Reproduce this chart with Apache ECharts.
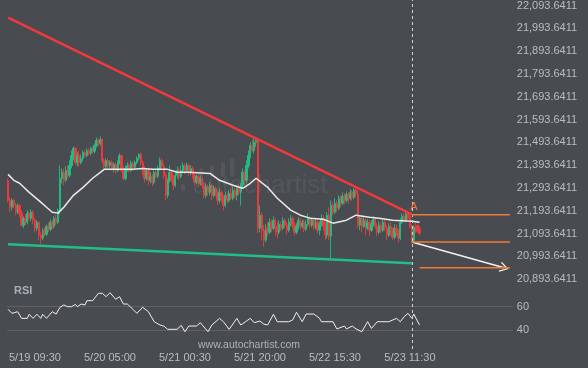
<!DOCTYPE html>
<html><head><meta charset="utf-8">
<script src="https://cdn.jsdelivr.net/npm/echarts@6/dist/echarts.min.js"></script>
<style>html,body{margin:0;padding:0;background:#484b50;}#c{width:588px;height:368px;}</style>
</head><body><div id="c"></div>
<script>
// ---- data ----
const startDay = 19, startMinute = 150;          // first bar 5/19 02:30, 30-min bars
const slotCount = 263;
const skippedTimes = ['5/22 23:00'];
const timeLabels = ['5/19 09:30','5/20 05:00','5/21 00:30','5/21 20:00','5/22 15:30','5/23 11:30'];
// [open, close, low, high]
const candles = [
[21327,21239,21230,21335],[21239,21209,21187,21252],[21209,21239,21195,21248],[21239,21217,21204,21244],[21217,21187,21174,21226],
[21187,21217,21178,21226],[21217,21182,21165,21222],[21182,21130,21121,21195],[21130,21160,21117,21169],[21160,21143,21130,21178],
[21143,21182,21134,21195],[21182,21160,21152,21191],[21160,21187,21147,21200],[21187,21152,21134,21195],[21152,21117,21099,21160],
[21117,21143,21104,21152],[21143,21086,21064,21147],[21086,21073,21047,21099],[21073,21108,21064,21117],[21108,21090,21082,21121],
[21090,21125,21082,21134],[21125,21112,21099,21143],[21112,21143,21104,21156],[21143,21125,21112,21152],[21125,21160,21117,21169],
[21160,21143,21130,21174],[21143,21195,21134,21204],[21195,21335,21178,21392],[21335,21362,21314,21379],[21362,21327,21305,21379],
[21327,21370,21318,21388],[21370,21349,21335,21392],[21349,21392,21340,21414],[21392,21436,21379,21458],[21436,21467,21414,21475],
[21467,21405,21392,21471],[21405,21436,21388,21449],[21436,21405,21388,21458],[21405,21423,21397,21440],[21423,21449,21410,21458],
[21449,21436,21427,21458],[21436,21458,21427,21467],[21458,21445,21436,21467],[21445,21467,21436,21475],[21467,21454,21445,21475],
[21454,21480,21445,21489],[21480,21502,21471,21515],[21502,21489,21475,21510],[21489,21506,21480,21519],[21506,21414,21401,21510],
[21414,21388,21379,21423],[21388,21414,21375,21423],[21414,21392,21379,21423],[21392,21405,21379,21414],[21405,21379,21370,21414],
[21379,21397,21362,21405],[21397,21370,21357,21405],[21370,21405,21362,21414],[21405,21436,21397,21445],[21436,21370,21362,21440],
[21370,21335,21327,21388],[21335,21379,21327,21392],[21379,21392,21366,21405],[21392,21370,21362,21401],[21370,21401,21362,21414],
[21401,21384,21370,21410],[21384,21405,21375,21414],[21405,21423,21397,21432],[21423,21440,21414,21445],[21440,21405,21392,21449],
[21405,21379,21349,21414],[21379,21335,21318,21388],[21335,21370,21327,21379],[21370,21327,21305,21379],[21327,21344,21314,21362],
[21344,21318,21300,21353],[21318,21362,21309,21370],[21362,21344,21335,21370],[21344,21379,21335,21392],[21379,21414,21370,21427],
[21414,21388,21379,21423],[21388,21349,21335,21401],[21349,21261,21239,21362],[21261,21327,21248,21335],[21327,21362,21318,21392],
[21362,21335,21318,21370],[21335,21305,21283,21349],[21305,21349,21296,21362],[21349,21370,21335,21388],[21370,21344,21327,21379],
[21344,21370,21335,21392],[21370,21392,21362,21405],[21392,21370,21353,21401],[21370,21392,21362,21405],[21392,21362,21344,21401],
[21362,21379,21349,21392],[21379,21349,21335,21388],[21349,21318,21305,21362],[21318,21344,21309,21353],[21344,21314,21300,21357],
[21314,21335,21305,21349],[21335,21305,21292,21344],[21305,21261,21248,21318],[21261,21300,21248,21314],[21300,21274,21257,21309],
[21274,21305,21261,21318],[21305,21261,21239,21314],[21261,21292,21252,21305],[21292,21270,21257,21300],[21270,21239,21217,21283],
[21239,21274,21226,21292],[21274,21248,21230,21283],[21248,21217,21195,21261],[21217,21261,21209,21274],[21261,21239,21226,21270],
[21239,21270,21230,21283],[21270,21248,21239,21292],[21248,21283,21239,21300],[21283,21261,21248,21296],[21261,21292,21239,21305],
[21292,21274,21261,21314],[21274,21305,21217,21314],[21305,21362,21292,21379],[21362,21327,21305,21370],[21327,21392,21314,21414],
[21392,21436,21379,21458],[21436,21480,21423,21493],[21480,21458,21449,21502],[21458,21493,21445,21510],[21493,21502,21475,21515],
[21502,21117,21095,21506],[21117,21174,21099,21217],[21174,21108,21064,21187],[21108,21064,21034,21130],[21064,21117,21055,21134],
[21117,21099,21082,21143],[21099,21143,21090,21160],[21143,21117,21099,21156],[21117,21152,21108,21169],[21152,21125,21082,21160],
[21125,21099,21073,21143],[21099,21134,21090,21152],[21134,21117,21104,21147],[21117,21152,21108,21165],[21152,21130,21117,21160],
[21130,21108,21090,21143],[21108,21143,21099,21160],[21143,21160,21125,21174],[21160,21130,21117,21169],[21130,21099,21086,21143],
[21099,21125,21090,21139],[21125,21152,21112,21165],[21152,21125,21108,21160],[21125,21143,21117,21152],[21143,21112,21099,21156],
[21112,21134,21104,21152],[21134,21160,21125,21182],[21160,21130,21117,21169],[21130,21152,21121,21165],[21152,21121,21108,21160],
[21121,21143,21112,21156],[21143,21108,21095,21152],[21108,21134,21086,21147],[21134,21160,21125,21178],[21160,21125,21108,21174],
[21125,21086,21064,21143],[21086,21174,21073,21187],[21174,21082,21064,21209],[21082,21217,20985,21239],[21217,21187,21174,21230],
[21187,21226,21178,21248],[21226,21204,21187,21239],[21204,21248,21195,21261],[21248,21226,21209,21261],[21226,21257,21217,21274],
[21257,21239,21222,21270],[21239,21265,21230,21279],[21265,21248,21226,21274],[21248,21274,21239,21287],[21274,21252,21239,21283],
[21252,21283,21244,21292],[21283,21265,21252,21296],[21265,21130,21117,21283],[21130,21160,21108,21174],[21160,21125,21099,21169],
[21125,21152,21117,21165],[21152,21117,21086,21160],[21117,21143,21108,21156],[21143,21108,21082,21152],[21108,21134,21099,21152],
[21134,21156,21125,21169],[21156,21125,21112,21165],[21125,21099,21082,21139],[21099,21130,21090,21147],[21130,21108,21095,21143],
[21108,21143,21099,21156],[21143,21117,21104,21156],[21117,21086,21064,21130],[21086,21125,21077,21139],[21125,21108,21082,21143],
[21108,21077,21064,21121],[21077,21117,21069,21134],[21117,21099,21082,21134],[21099,21073,21055,21112],[21073,21143,21064,21160],
[21143,21169,21134,21182],[21169,21152,21143,21182],[21152,21178,21143,21191],[21178,21160,21152,21187],[21169,21125,21117,21182],
[21125,21064,21055,21134],[21064,21121,21055,21130],[21121,21104,21095,21139],[21130,21104,21095,21134],[21117,21095,21086,21125]
];
// moving average [barIndex, value]
const maLine = [[0,21353],[3,21327],[6,21314],[11,21274],[17,21231],[20,21209],[23,21187],[26,21183],[29,21209],[34,21261],[39,21296],[44,21336],[48,21362],[50,21375],[57,21375],[65,21375],[70,21379],[75,21375],[83,21375],[88,21362],[94,21362],[105,21357],[110,21327],[117,21305],[122,21292],[126,21314],[129,21336],[135,21296],[140,21248],[147,21196],[152,21174],[157,21161],[164,21156],[169,21139],[176,21152],[181,21174],[188,21165],[193,21161],[200,21152],[205,21150],[210,21147],[214,21143]];
// RSI [barIndex, value]
const rsiLine = [[0,57.8],[2,54.3],[5,55.7],[7,50],[10,50],[11,53.5],[13,50],[15,53.5],[17,50],[18,53.5],[20,50],[23,55.7],[25,53.7],[27,59.5],[29,61.5],[31,60],[33,60],[35,62],[36,60],[38,62.3],[40,61.5],[41,65.2],[44,65.2],[47,71.5],[49,71.5],[51,68.6],[53,72],[56,66.4],[58,68.6],[60,62.3],[62,62.3],[65,57.7],[67,54.3],[70,59.5],[73,55.7],[76,47.1],[79,44.3],[81,43.4],[83,40.6],[88,40.6],[90,44],[92,38.5],[94,43.4],[98,43.4],[100,46.3],[101,44.3],[104,38.5],[106,44.3],[110,50],[112,47.1],[115,40.6],[119,50],[121,44.3],[124,47.7],[126,50],[128,46.3],[131,47.7],[133,45],[135,44.3],[138,53.5],[140,47.1],[146,47.1],[148,48.6],[150,55.2],[153,47.1],[155,53.7],[159,53.7],[162,50],[163,47.1],[169,47.1],[171,40.9],[175,43.4],[176,40.9],[179,43.4],[181,40.9],[184,38.5],[187,47.1],[189,41.4],[192,47.1],[198,47.1],[202,50],[204,47.1],[206,51.4],[208,54.3],[210,50],[211,53.7],[214,44.3]];
const resistanceLine = [[0,22040],[210,21178]];
const supportLine = [[0,21047],[210,20963]];
const upperLevel = [[210,21176],[261,21176]];
const lowerLevel = [[210,21056],[261,21056]];
const targetLevel = [[214,20943],[261,20943]];
const forecastArrow = [[210,21056],[258,20943]];
const breakoutBar = 210;
const priceAxis = {min: 20793.6411, max: 22093.6411, step: 100.000001};
const rsiAxis = {min: 40, max: 60, step: 20};

// ---- categories ----
const categories = [];
let t = startMinute;
while (categories.length < slotCount) {
  const day = startDay + Math.floor(t / 1440);
  const m = t % 1440;
  const lab = '5/' + day + ' ' + String(Math.floor(m / 60)).padStart(2, '0') + ':' + String(m % 60).padStart(2, '0');
  if (!skippedTimes.includes(lab)) categories.push(lab);
  t += 30;
}

function fmtPrice(v) {
  const s = v.toFixed(4).split('.');
  return s[0].replace(/\B(?=(\d{3})+(?!\d))/g, ',') + '.' + s[1];
}

const BG = '#484b50', RED = '#f2393b', GREEN = '#1fbf86', ORANGE = '#f27a36', TXT = '#b9bcc1';
const FONT = 'Liberation Sans, Arial, sans-serif';
const gridBase = {left: 7.1, width: 505.7};

const chart = echarts.init(document.getElementById('c'), null, {renderer: 'canvas'});
chart.setOption({
  backgroundColor: BG,
  animation: false,
  textStyle: {fontFamily: FONT},
  grid: [
    Object.assign({top: 4.7, height: 297.2}, gridBase),
    Object.assign({top: 306.7, height: 23.3}, gridBase),
    Object.assign({top: 0, height: 349}, gridBase)
  ],
  xAxis: [
    {type: 'category', gridIndex: 0, data: categories, show: false},
    {type: 'category', gridIndex: 1, data: categories, show: false},
    {type: 'category', gridIndex: 2, data: categories,
     axisLine: {show: false}, axisTick: {show: false}, splitLine: {show: false},
     axisLabel: {interval: (i, v) => timeLabels.includes(v), color: TXT, fontSize: 11, margin: 3, fontFamily: FONT}}
  ],
  yAxis: [
    {type: 'value', gridIndex: 0, position: 'right', min: priceAxis.min, max: priceAxis.max, interval: priceAxis.step,
     axisLine: {show: false}, axisTick: {show: false}, splitLine: {show: false},
     axisLabel: {showMinLabel: false, margin: 4, color: TXT, fontSize: 11, fontFamily: FONT, formatter: fmtPrice}},
    {type: 'value', gridIndex: 1, position: 'right', min: rsiAxis.min, max: rsiAxis.max, interval: rsiAxis.step,
     axisLine: {show: false}, axisTick: {show: false},
     splitLine: {show: true, lineStyle: {color: '#5d6166', width: 1}},
     axisLabel: {margin: 4, color: TXT, fontSize: 11, fontFamily: FONT}},
    {type: 'value', gridIndex: 2, show: false, min: 0, max: 1}
  ],
  graphic: [
    {type: 'group', z: 0, silent: true, children: [
      {type: 'rect', shape: {x: 181, y: 184, width: 4, height: 7, r: 2}, style: {fill: '#53575c'}},
      {type: 'rect', shape: {x: 199, y: 168, width: 4, height: 9, r: 2}, style: {fill: '#53575c'}},
      {type: 'rect', shape: {x: 210, y: 165, width: 4, height: 12, r: 2}, style: {fill: '#53575c'}},
      {type: 'rect', shape: {x: 221, y: 162, width: 4, height: 15, r: 2}, style: {fill: '#53575c'}},
      {type: 'rect', shape: {x: 230, y: 158, width: 4, height: 19, r: 2}, style: {fill: '#53575c'}},
      {type: 'text', x: 193, y: 186, style: {text: 'autochartist', fill: '#53575c', font: '26px ' + FONT, textVerticalAlign: 'middle'}}
    ]},
    {type: 'text', x: 198, y: 345, z: 1, silent: true, style: {text: 'www.autochartist.com', fill: '#aeb2b7', font: '10.5px ' + FONT, textVerticalAlign: 'middle'}},
    {type: 'text', x: 14, y: 291, z: 1, silent: true, style: {text: 'RSI', fill: '#a9adb3', font: 'bold 11px ' + FONT, textVerticalAlign: 'middle'}}
  ],
  series: [
    {type: 'candlestick', xAxisIndex: 0, yAxisIndex: 0, data: candles, barWidth: 1.8, z: 3,
     itemStyle: {color: GREEN, color0: RED, borderColor: GREEN, borderColor0: RED, borderWidth: 0.9},
     markPoint: {symbol: 'circle', symbolSize: 0, silent: true,
       data: [{coord: [breakoutBar, upperLevel[0][1]], label: {show: true, formatter: 'A', color: ORANGE, fontSize: 11, offset: [2, -8], fontFamily: FONT}}]}},
    {type: 'line', xAxisIndex: 0, yAxisIndex: 0, data: maLine, symbol: 'none', z: 4,
     lineStyle: {color: '#e9e9e9', width: 1.5}},
    {type: 'line', xAxisIndex: 0, yAxisIndex: 0, data: resistanceLine, symbol: 'none', z: 5,
     lineStyle: {color: RED, width: 2.5}},
    {type: 'line', xAxisIndex: 0, yAxisIndex: 0, data: supportLine, symbol: 'none', z: 5,
     lineStyle: {color: GREEN, width: 2.5}},
    {type: 'line', xAxisIndex: 0, yAxisIndex: 0, data: upperLevel, symbol: 'none', z: 5,
     lineStyle: {color: ORANGE, width: 1.5}},
    {type: 'line', xAxisIndex: 0, yAxisIndex: 0, data: lowerLevel, symbol: 'none', z: 5,
     lineStyle: {color: ORANGE, width: 1.5}},
    {type: 'line', xAxisIndex: 0, yAxisIndex: 0, data: targetLevel, symbol: 'none', z: 5,
     lineStyle: {color: ORANGE, width: 1.5}},
    {type: 'line', xAxisIndex: 0, yAxisIndex: 0, data: [], z: 6,
     markLine: {silent: true, animation: false,
       symbol: ['none', 'path://M5,0 L10,9 L9,10 L5,2.5 L1,10 L0,9 Z'], symbolSize: [10, 9],
       label: {show: false}, lineStyle: {color: '#f2f2f2', width: 1.5, type: 'solid'},
       data: [[{coord: forecastArrow[0]}, {coord: forecastArrow[1]}]]}},
    {type: 'line', xAxisIndex: 1, yAxisIndex: 1, data: rsiLine, symbol: 'none', clip: false, z: 4,
     lineStyle: {color: '#f0f0f0', width: 1}},
    {type: 'line', xAxisIndex: 2, yAxisIndex: 2, data: [], z: 7,
     markLine: {silent: true, animation: false, symbol: 'none', label: {show: false},
       lineStyle: {color: '#cfd1d4', width: 1, type: [3, 3]},
       data: [{xAxis: categories[breakoutBar]}]}}
  ]
});
</script></body></html>
